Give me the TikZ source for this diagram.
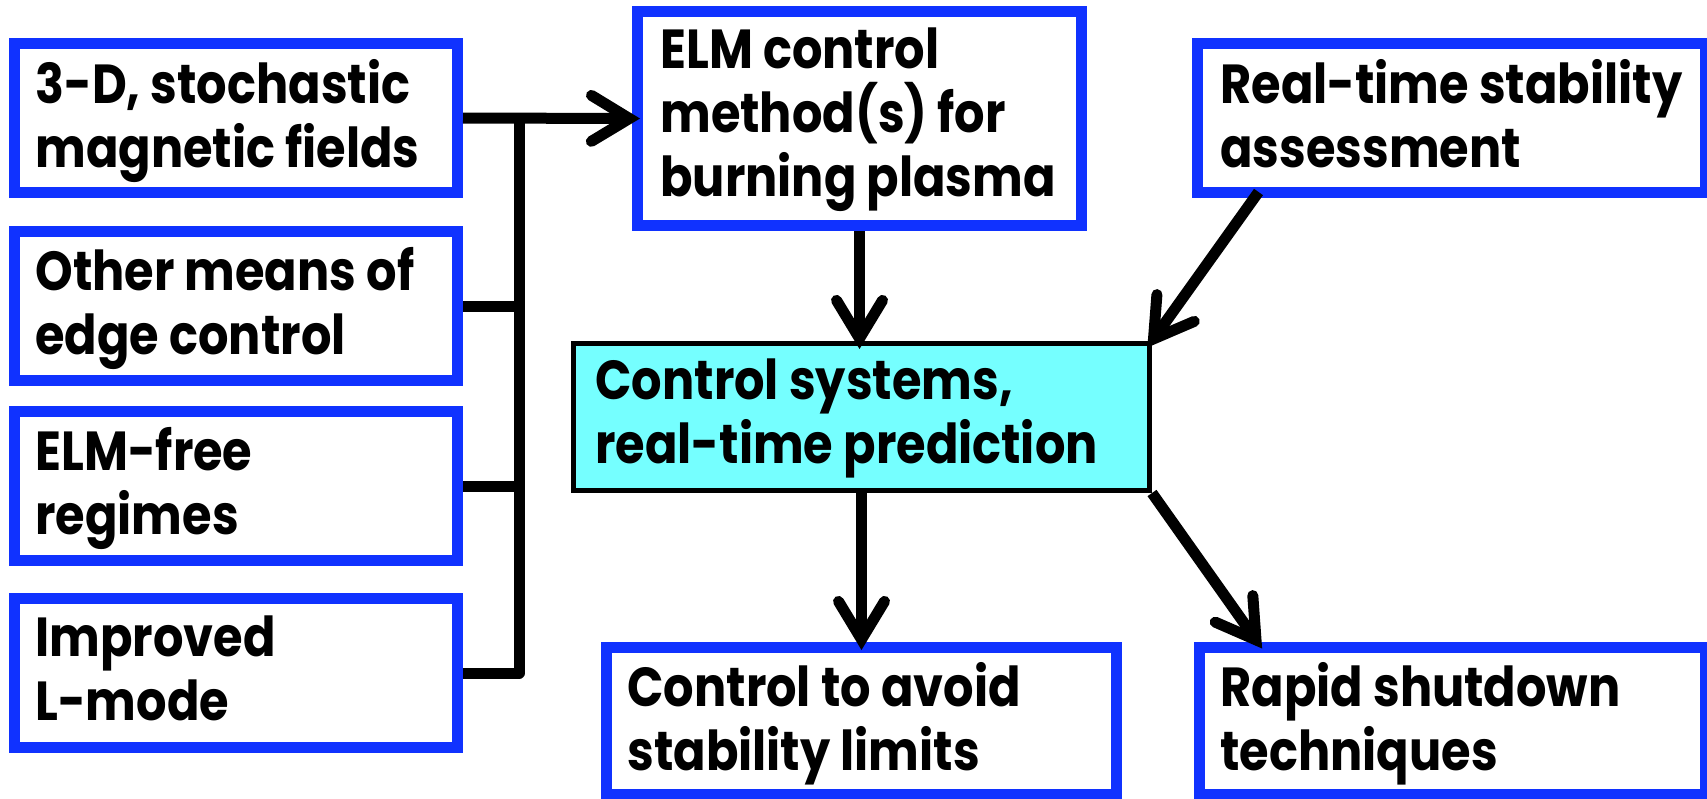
\documentclass[tikz,border=0pt]{standalone}
\usepackage{fontspec}
\setmainfont{Poppins}[FakeStretch=0.87]
\usetikzlibrary{arrows.meta,calc}
\definecolor{boxblue}{RGB}{16,50,255}
\definecolor{hubcyan}{RGB}{117,255,255}
\begin{document}
\begin{tikzpicture}[x=0.5pt,y=-0.5pt,
  bluebox/.style={rectangle,draw=boxblue,line width=5.5pt,fill=white,inner sep=0pt},
  hubbox/.style={rectangle,draw=black,line width=2.5pt,fill=hubcyan,inner sep=0pt},
  % text block: first baseline sits 24pt below the anchor
  lbl/.style={anchor=north west,align=left,inner sep=0pt,
    font=\fontsize{27.5pt}{32pt}\selectfont\bfseries,
    execute at begin node={\rule{0pt}{24pt}}},
  conn/.style={line width=5.5pt,draw=black},
  arr/.style={conn,-{Straight Barb[length=19pt,width=23pt,line cap=round,line join=miter]},shorten >=-4pt}]
\clip (0,0) rectangle (1707,798);
\fill[white] (0,0) rectangle (1707,798);

% left column: candidate edge-control approaches
\node[bluebox,minimum width=221.5pt,minimum height=74.5pt] (b1) at (236,118) {};
\node[bluebox,minimum width=221.5pt,minimum height=74.5pt] (b2) at (236,306) {};
\node[bluebox,minimum width=221.5pt,minimum height=74.5pt] (b3) at (236,486) {};
\node[bluebox,minimum width=221.5pt,minimum height=74.5pt] (b4) at (236,673) {};
\node[lbl] (b1t) at (35,59)  {3-D, stochastic\\magnetic fields};
\node[lbl] (b2t) at (35,247) {Other means of\\edge control};
\node[lbl] (b3t) at (35,427) {ELM-free\\regimes};
\node[lbl] (b4t) at (35,615) {Improved\\L-mode};

% centre and right
\node[bluebox,minimum width=222pt,minimum height=107pt] (elm) at (859.5,118.5) {};
\node[lbl] (elmt) at (660,27) {ELM control\\method(s) for\\burning plasma};
\node[hubbox,minimum width=288pt,minimum height=73.5pt] (ctrl) at (861.5,417) {};
\node[lbl] (ctrlt) at (595,358) {Control systems,\\real-time prediction};
\node[bluebox,minimum width=254pt,minimum height=74.5pt] (rts) at (1451,118) {};
\node[lbl] (rtst) at (1220,59) {Real-time stability\\assessment};
\node[bluebox,minimum width=255pt,minimum height=73.5pt] (avoid) at (861.5,721) {};
\node[lbl] (avoidt) at (627,662) {Control to avoid\\stability limits};
\node[bluebox,minimum width=253pt,minimum height=73.5pt] (rapid) at (1452,721) {};
\node[lbl] (rapidt) at (1220,662) {Rapid shutdown\\techniques};

% collector bar
\coordinate (bartop) at (519,118);
\draw[arr] (b1.east) -- (elm.west);
\draw[conn] (b2.east) -- (b2.east -| bartop);
\draw[conn] (b3.east) -- (b3.east -| bartop);
\draw[conn,line join=round] (b4.east) -| (bartop);

% flow through the control hub
\draw[arr] (elm.south) -- (elm.south |- ctrl.north);
\draw[arr] ($(rts.south west)+(67,-6)$) -- (ctrl.north east);
\draw[arr] (ctrl.south) -- (ctrl.south |- avoid.north);
\draw[arr] (ctrl.south east) -- ($(rapid.north west)+(64,0)$);
\end{tikzpicture}
\end{document}
